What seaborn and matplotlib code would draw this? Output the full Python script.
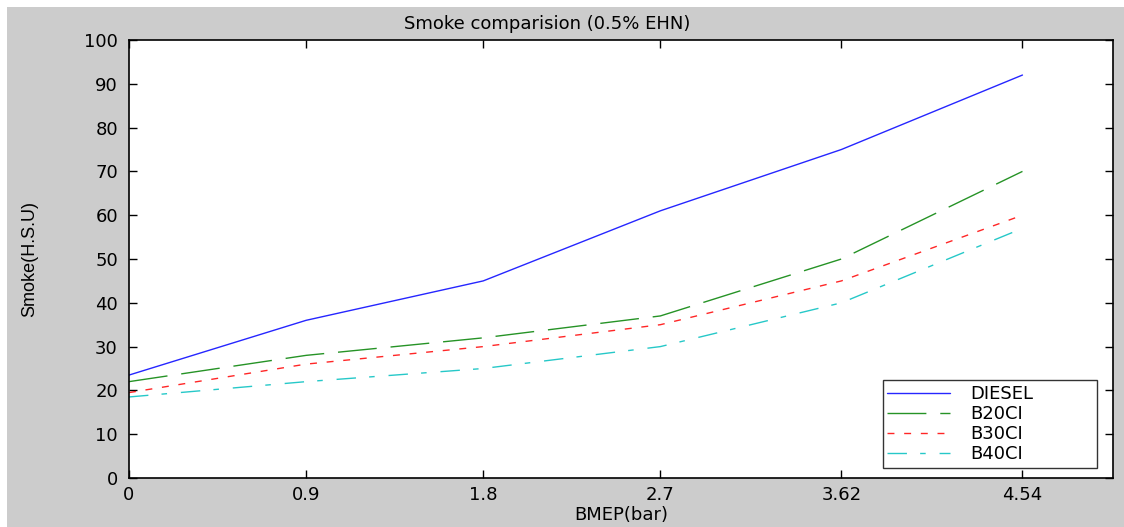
import matplotlib
matplotlib.use("Agg")
import matplotlib.pyplot as plt
from matplotlib.patches import Rectangle
import seaborn as sns
import pandas as pd

bmep = [0, 0.9, 1.8, 2.7, 3.62, 4.54]
diesel = [23.5, 36, 45, 61, 75, 92]
b20ci = [22, 28, 32, 37, 50, 70]
b30ci = [19.5, 26, 30, 35, 45, 60]
b40ci = [18.5, 22, 25, 30, 40, 57]

names = ["DIESEL", "B20CI", "B30CI", "B40CI"]
colors = ["#0000ff", "#008000", "#ff0000", "#00bfbf"]
dashes = ["-", (0, (28, 10)), (0, (5, 7)), (0, (14, 9.5, 4, 10))]

W, H = 1124, 527


def main():
    sns.set_theme(style="white")
    plt.rcParams["font.family"] = ["DejaVu Sans"]
    plt.rcParams["text.color"] = "black"
    plt.rcParams["axes.labelcolor"] = "black"

    fig = plt.figure(figsize=(W / 100, H / 100), dpi=100, facecolor="#cccccc")
    # white strips at the top and left, as in the screenshot
    fig.patches.append(Rectangle((0, 1 - 7 / H), 1, 7 / H, transform=fig.transFigure,
                                 facecolor="white", edgecolor="none", zorder=-1))
    fig.patches.append(Rectangle((0, 0), 7 / W, 1, transform=fig.transFigure,
                                 facecolor="white", edgecolor="none", zorder=-1))

    ax = fig.add_axes([129 / W, 1 - 478 / H, (1113 - 129) / W, (478 - 40) / H])
    ax.set_facecolor("white")

    df = pd.DataFrame({"BMEP": bmep, "DIESEL": diesel, "B20CI": b20ci,
                       "B30CI": b30ci, "B40CI": b40ci})
    for name, c, ls in zip(names, colors, dashes):
        sns.lineplot(data=df, x="BMEP", y=name, ax=ax, color=c, linewidth=1.0,
                     linestyle=ls, label=name, alpha=0.85)

    ax.set_xlim(0, 5)
    ax.set_ylim(0, 100)
    ax.set_xticks(bmep)
    ax.set_xticklabels(["0", "0.9", "1.8", "2.7", "3.62", "4.54"])
    ax.set_yticks(range(0, 101, 10))
    ax.tick_params(direction="in", length=6, width=1, top=True, right=True,
                   bottom=True, left=True, labelsize=13, colors="black")
    ax.tick_params(axis="x", pad=6)
    ax.tick_params(axis="y", pad=8)
    for s in ax.spines.values():
        s.set_color("black")
        s.set_linewidth(1.2)

    ax.set_title("Smoke comparision (0.5% EHN)", fontsize=13, pad=8, x=0.425)
    ax.set_xlabel("BMEP(bar)", fontsize=13, labelpad=1)
    ax.set_ylabel("Smoke(H.S.U)", fontsize=13, labelpad=33,
                  family=["Liberation Sans Narrow", "Liberation Sans", "DejaVu Sans"])

    leg = ax.legend(loc="lower left", bbox_to_anchor=(0.766, 0.0228, 0.218, 0.2),
                    mode="expand", fontsize=13, frameon=True, fancybox=False,
                    handlelength=3.5, handletextpad=1.1, borderpad=0.25,
                    labelspacing=0.12, borderaxespad=0)
    leg.get_frame().set_edgecolor("black")
    leg.get_frame().set_linewidth(1.0)
    for t in leg.get_texts():
        t.set_color("black")

    fig.savefig("out.png", dpi=100, facecolor=fig.get_facecolor())
    plt.close(fig)


if __name__ == "__main__":
    main()
